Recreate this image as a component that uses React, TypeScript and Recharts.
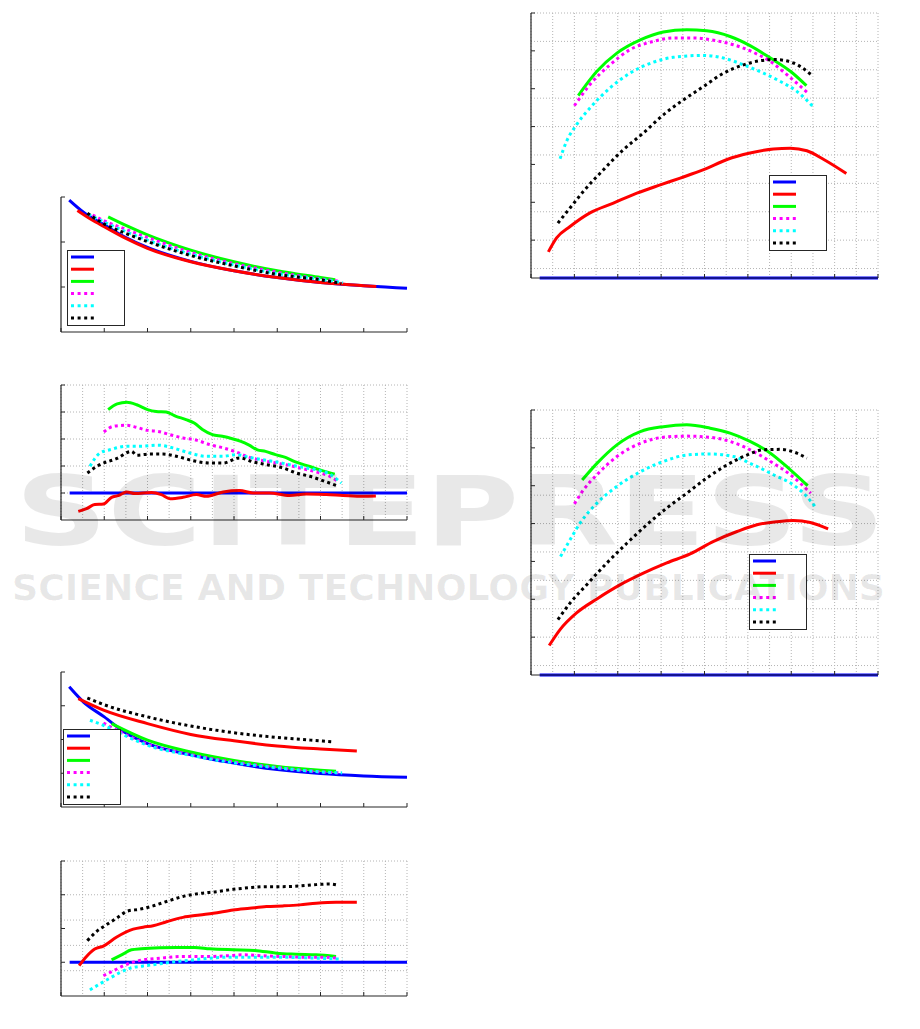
import React from 'react';
import { LineChart, Line, XAxis, YAxis, CartesianGrid } from 'recharts';

type Pt = [number, number];

// shared x axis: 0..8, one tick per unit
const xTicks = [0, 1, 2, 3, 4, 5, 6, 7, 8];

// ---- panel 1: decay curves ----
const p1Blue: Pt[] = [[0.19, 2.93], [0.52, 2.66], [1, 2.38], [1.5, 2.1], [2, 1.88], [3, 1.57], [4, 1.36], [5, 1.21], [6, 1.1], [7, 1.03], [7.5, 1.0], [8, 0.97]];
const p1Red: Pt[] = [[0.38, 2.7], [0.7, 2.5], [1, 2.34], [1.5, 2.08], [2, 1.86], [3, 1.56], [4, 1.36], [5, 1.21], [6, 1.1], [7, 1.03], [7.29, 1.01]];
const p1Green: Pt[] = [[1.09, 2.56], [1.5, 2.37], [2, 2.16], [3, 1.82], [4, 1.56], [5, 1.36], [6, 1.21], [6.34, 1.16]];
const p1Magenta: Pt[] = [[0.73, 2.6], [1, 2.47], [1.5, 2.28], [2, 2.1], [3, 1.77], [4, 1.52], [5, 1.33], [6, 1.18], [6.42, 1.13]];
const p1Cyan: Pt[] = [[0.63, 2.62], [1, 2.44], [1.5, 2.23], [2, 2.04], [3, 1.73], [4, 1.49], [5, 1.3], [6, 1.17], [6.52, 1.1]];
const p1Black: Pt[] = [[0.61, 2.64], [1, 2.4], [1.5, 2.19], [2, 2.01], [3, 1.7], [4, 1.47], [5, 1.28], [6, 1.16], [6.48, 1.08]];

// ---- panel 2: differences ----
const p2Blue: Pt[] = [[0.2, 0], [8, 0]];
const p2Red: Pt[] = [[0.4, -0.68], [0.59, -0.58], [0.78, -0.43], [0.98, -0.41], [1.17, -0.16], [1.32, -0.1], [1.52, 0.04], [1.71, -0.02], [2.09, 0.02], [2.32, -0.06], [2.52, -0.21], [2.82, -0.16], [3.13, -0.06], [3.36, -0.12], [3.75, 0.04], [4.13, 0.09], [4.44, 0], [4.82, 0], [5.28, -0.09], [5.67, -0.04], [6.13, -0.06], [6.52, -0.09], [6.98, -0.12], [7.28, -0.11]];
const p2Green: Pt[] = [[1.09, 3.09], [1.3, 3.3], [1.52, 3.36], [1.75, 3.27], [2, 3.09], [2.2, 3.02], [2.43, 3.0], [2.66, 2.84], [2.89, 2.72], [3.08, 2.59], [3.27, 2.35], [3.5, 2.16], [3.73, 2.1], [3.96, 2.01], [4.16, 1.91], [4.35, 1.77], [4.54, 1.6], [4.73, 1.54], [4.96, 1.42], [5.19, 1.32], [5.42, 1.15], [5.73, 0.99], [6.04, 0.83], [6.33, 0.7]];
const p2Magenta: Pt[] = [[0.99, 2.26], [1.21, 2.47], [1.52, 2.51], [1.75, 2.43], [2, 2.32], [2.25, 2.28], [2.52, 2.16], [2.82, 2.04], [3.13, 1.96], [3.44, 1.79], [3.75, 1.67], [4.05, 1.52], [4.36, 1.32], [4.67, 1.2], [4.98, 1.11], [5.28, 1.02], [5.59, 0.9], [5.9, 0.78], [6.21, 0.62], [6.38, 0.46]];
const p2Cyan: Pt[] = [[0.67, 0.99], [0.9, 1.48], [1.13, 1.6], [1.52, 1.73], [1.82, 1.73], [2.25, 1.77], [2.59, 1.67], [2.98, 1.48], [3.36, 1.36], [3.75, 1.36], [4.05, 1.42], [4.36, 1.32], [4.67, 1.23], [4.98, 1.15], [5.28, 1.05], [5.59, 0.95], [5.9, 0.86], [6.21, 0.7], [6.48, 0.37]];
const p2Black: Pt[] = [[0.61, 0.74], [0.9, 1.05], [1.28, 1.27], [1.63, 1.54], [1.75, 1.4], [2.05, 1.44], [2.36, 1.44], [2.67, 1.36], [3.05, 1.2], [3.44, 1.11], [3.75, 1.11], [4.13, 1.3], [4.44, 1.15], [4.75, 1.05], [5.13, 0.93], [5.44, 0.74], [5.75, 0.62], [6.05, 0.46], [6.36, 0.28]];

// ---- panel 3: decay curves, second case ----
const p3Blue: Pt[] = [[0.19, 3.56], [0.52, 3.11], [1, 2.67], [1.5, 2.19], [2, 1.88], [3, 1.55], [4, 1.3], [5, 1.11], [6, 0.99], [7, 0.92], [8, 0.88]];
const p3Red: Pt[] = [[0.4, 3.21], [1, 2.86], [2, 2.47], [3, 2.15], [4, 1.96], [5, 1.81], [6, 1.72], [6.84, 1.66]];
const p3Green: Pt[] = [[1.17, 2.47], [2, 1.98], [3, 1.63], [4, 1.38], [5, 1.2], [6, 1.09], [6.36, 1.06]];
const p3Magenta: Pt[] = [[0.98, 2.49], [1.5, 2.14], [2, 1.86], [3, 1.55], [4, 1.33], [5, 1.17], [6, 1.04], [6.48, 1.01]];
const p3Cyan: Pt[] = [[0.67, 2.57], [0.98, 2.42], [1.52, 2.09], [2, 1.83], [3, 1.53], [4, 1.31], [5, 1.16], [6, 1.04], [6.5, 1.01]];
const p3Black: Pt[] = [[0.61, 3.23], [1, 3.03], [2, 2.67], [3, 2.4], [4, 2.2], [5, 2.06], [6, 1.96], [6.32, 1.93]];

// ---- panel 4: differences, second case ----
const p4Blue: Pt[] = [[0.2, 0], [8, 0]];
const p4Red: Pt[] = [[0.42, -0.1], [0.59, 0.17], [0.78, 0.39], [0.98, 0.48], [1.28, 0.74], [1.67, 0.98], [1.9, 1.04], [2.13, 1.08], [2.44, 1.2], [2.82, 1.33], [3.21, 1.4], [3.52, 1.45], [3.98, 1.55], [4.36, 1.6], [4.75, 1.65], [5.13, 1.67], [5.52, 1.7], [5.9, 1.75], [6.36, 1.78], [6.84, 1.78]];
const p4Green: Pt[] = [[1.17, 0.07], [1.4, 0.22], [1.63, 0.37], [1.86, 0.4], [2.28, 0.43], [2.67, 0.44], [3.09, 0.44], [3.44, 0.4], [3.98, 0.37], [4.48, 0.35], [4.98, 0.27], [5.44, 0.24], [5.9, 0.22], [6.36, 0.17]];
const p4Magenta: Pt[] = [[0.98, -0.4], [1.17, -0.28], [1.4, -0.13], [1.63, -0.01], [1.9, 0.07], [2.28, 0.12], [2.82, 0.17], [3.36, 0.17], [3.82, 0.19], [4.21, 0.22], [4.67, 0.19], [5.13, 0.17], [5.59, 0.15], [6.05, 0.15], [6.38, 0.12]];
const p4Cyan: Pt[] = [[0.67, -0.82], [0.9, -0.64], [1.13, -0.47], [1.36, -0.31], [1.59, -0.18], [1.9, -0.11], [2.21, -0.06], [2.67, 0.02], [3.05, 0.07], [3.44, 0.12], [3.9, 0.15], [4.36, 0.15], [4.98, 0.15], [5.44, 0.14], [5.9, 0.12], [6.5, 0.09]];
const p4Black: Pt[] = [[0.61, 0.64], [0.82, 0.91], [1.05, 1.11], [1.28, 1.3], [1.55, 1.52], [1.82, 1.57], [2.13, 1.67], [2.44, 1.8], [2.82, 1.95], [3.21, 2.04], [3.59, 2.09], [3.98, 2.16], [4.36, 2.21], [4.75, 2.24], [5.13, 2.24], [5.52, 2.26], [5.9, 2.3], [6.21, 2.32], [6.38, 2.29]];

// ---- panel 5: arcs ----
const p5Blue: Pt[] = [[0.2, 0], [8, 0]];
const p5Red: Pt[] = [[0.4, 0.69], [0.59, 1.06], [0.9, 1.36], [1.36, 1.72], [1.9, 1.98], [2.44, 2.24], [2.98, 2.46], [3.44, 2.64], [3.98, 2.86], [4.52, 3.13], [5.05, 3.3], [5.59, 3.41], [5.98, 3.43], [6.36, 3.36], [6.75, 3.13], [7.27, 2.76]];
const p5Green: Pt[] = [[1.09, 4.82], [1.52, 5.46], [1.98, 5.94], [2.52, 6.29], [3.05, 6.5], [3.59, 6.56], [4.05, 6.53], [4.59, 6.38], [5.05, 6.14], [5.52, 5.81], [5.98, 5.46], [6.35, 5.08]];
const p5Magenta: Pt[] = [[1.0, 4.55], [1.36, 5.11], [1.82, 5.63], [2.28, 6.03], [2.82, 6.25], [3.28, 6.34], [3.75, 6.34], [4.21, 6.28], [4.67, 6.16], [5.13, 5.96], [5.52, 5.72], [5.9, 5.37], [6.36, 4.91]];
const p5Cyan: Pt[] = [[0.67, 3.15], [0.82, 3.61], [1.05, 4.05], [1.36, 4.49], [1.82, 5.02], [2.28, 5.41], [2.82, 5.7], [3.28, 5.83], [3.98, 5.88], [4.44, 5.81], [4.9, 5.63], [5.36, 5.41], [5.75, 5.19], [6.13, 4.93], [6.5, 4.53]];
const p5Black: Pt[] = [[0.62, 1.45], [0.9, 1.85], [1.21, 2.29], [1.67, 2.86], [2.13, 3.39], [2.59, 3.83], [3.05, 4.31], [3.52, 4.71], [3.98, 5.06], [4.44, 5.41], [4.9, 5.63], [5.28, 5.74], [5.63, 5.77], [6.05, 5.68], [6.48, 5.35]];

// ---- panel 6: arcs, second case ----
const p6Blue: Pt[] = [[0.2, 0], [8, 0]];
const p6Red: Pt[] = [[0.42, 0.78], [0.67, 1.2], [1.05, 1.64], [1.52, 2.01], [2.05, 2.38], [2.59, 2.69], [3.13, 2.96], [3.67, 3.2], [4.21, 3.53], [4.75, 3.79], [5.21, 3.97], [5.67, 4.05], [6.05, 4.08], [6.44, 4.03], [6.85, 3.86]];
const p6Green: Pt[] = [[1.18, 5.15], [1.52, 5.59], [1.98, 6.08], [2.52, 6.43], [3.05, 6.56], [3.59, 6.61], [4.13, 6.52], [4.59, 6.39], [5.05, 6.17], [5.52, 5.86], [5.98, 5.42], [6.38, 5.0]];
const p6Magenta: Pt[] = [[1.0, 4.52], [1.21, 4.89], [1.52, 5.29], [1.98, 5.77], [2.52, 6.12], [3.05, 6.28], [3.59, 6.31], [4.13, 6.28], [4.59, 6.17], [5.05, 5.95], [5.52, 5.64], [5.98, 5.29], [6.45, 4.8]];
const p6Cyan: Pt[] = [[0.68, 3.13], [0.9, 3.57], [1.13, 4.01], [1.52, 4.54], [1.98, 4.98], [2.52, 5.37], [3.05, 5.64], [3.59, 5.81], [4.13, 5.84], [4.67, 5.77], [5.13, 5.55], [5.59, 5.29], [6.05, 5.02], [6.32, 4.76], [6.55, 4.45]];
const p6Black: Pt[] = [[0.62, 1.46], [0.9, 1.9], [1.28, 2.38], [1.75, 2.96], [2.21, 3.48], [2.67, 3.97], [3.13, 4.41], [3.59, 4.8], [4.05, 5.2], [4.52, 5.55], [4.98, 5.81], [5.36, 5.95], [5.75, 5.96], [6.13, 5.86], [6.36, 5.73]];

const COLORS = ['#0000ff', '#ff0000', '#00ff00', '#ff00ff', '#00ffff', '#000000'];
const DOTTED = [false, false, false, true, true, true];
const AXIS = '#262626';

function steps(lo: number, hi: number, step: number) {
  const out: number[] = [];
  for (let v = lo; v <= hi + 1e-9; v += step) out.push(+v.toFixed(4));
  return out;
}

interface PanelProps {
  left: number;
  top: number;
  width: number;
  height: number;
  yDomain: [number, number];
  yTicks: number[];
  series: Pt[][];
  grid?: { x: number; y: number };
  legend?: { left: number; top: number };
}

function LegendBox({ left, top }: { left: number; top: number }) {
  return (
    <svg width={58} height={76} style={{ position: 'absolute', left, top }}>
      <rect x={0.5} y={0.5} width={57} height={75} fill="#fff" stroke={AXIS} strokeWidth={1} />
      {COLORS.map((c, i) => (
        <line
          key={c}
          x1={4}
          x2={27}
          y1={7 + i * 12.2}
          y2={7 + i * 12.2}
          stroke={c}
          strokeWidth={3}
          strokeDasharray={DOTTED[i] ? '3 3.6' : undefined}
        />
      ))}
    </svg>
  );
}

// inward-pointing tick marks, no labels
const TICK_LEN = 4;

function Panel({ left, top, width, height, yDomain, yTicks, series, grid, legend }: PanelProps) {
  const pad = 6; // space around the plot area
  const axisSize = 8;
  return (
    <>
      <div style={{ position: 'absolute', left: left - axisSize, top: top - pad }}>
        <LineChart
          width={width + axisSize + pad}
          height={height + axisSize + pad}
          margin={{ top: pad, right: pad, bottom: 0, left: 0 }}
        >
          {grid && (
            <CartesianGrid
              stroke="#b4b4b4"
              strokeDasharray="1 2"
              verticalValues={steps(0, 8, grid.x)}
              horizontalValues={steps(yDomain[0], yDomain[1], grid.y)}
            />
          )}
          <XAxis
            type="number"
            dataKey="x"
            domain={[0, 8]}
            ticks={xTicks}
            tick={() => <g />}
            height={axisSize}
            tickSize={-TICK_LEN}
            axisLine={{ stroke: AXIS, strokeWidth: 1.2 }}
            tickLine={{ stroke: AXIS }}
          />
          <YAxis
            type="number"
            domain={yDomain}
            ticks={yTicks}
            tick={() => <g />}
            width={axisSize}
            tickSize={-TICK_LEN}
            axisLine={{ stroke: AXIS, strokeWidth: 1.2 }}
            tickLine={{ stroke: AXIS }}
          />
          {series.map((pts, i) => (
            <Line
              key={i}
              data={pts.map(([x, y]) => ({ x, y }))}
              dataKey="y"
              type="monotone"
              stroke={COLORS[i]}
              strokeWidth={3}
              strokeDasharray={DOTTED[i] ? '3 3.3' : undefined}
              dot={false}
              activeDot={false}
              isAnimationActive={false}
            />
          ))}
        </LineChart>
      </div>
      {legend && <LegendBox left={legend.left} top={legend.top} />}
    </>
  );
}

function Watermark() {
  return (
    <svg
      width={920}
      height={1029}
      style={{ position: 'absolute', left: 0, top: 0, pointerEvents: 'none' }}
    >
      <g fill="#000" fillOpacity={0.09} fontFamily="DejaVu Sans, sans-serif" fontWeight="bold">
        <text x={15} y={545} fontSize={96} textLength={870} lengthAdjust="spacingAndGlyphs">
          SCITEPRESS
        </text>
        <text x={12} y={600} fontSize={36} textLength={873} lengthAdjust="spacingAndGlyphs">
          SCIENCE AND TECHNOLOGY PUBLICATIONS
        </text>
      </g>
    </svg>
  );
}

export default function App() {
  return (
    <div style={{ position: 'absolute', left: 0, top: 0, width: 920, height: 1029, background: '#fff' }}>
      <Panel
        left={61} top={197} width={346} height={135}
        yDomain={[0, 3]} yTicks={[0, 1, 2, 3]}
        series={[p1Blue, p1Red, p1Green, p1Magenta, p1Cyan, p1Black]}
        legend={{ left: 67, top: 250 }}
      />
      <Panel
        left={61} top={385} width={346} height={135}
        yDomain={[-1, 4]} yTicks={[-1, 0, 1, 2, 3, 4]}
        series={[p2Blue, p2Red, p2Green, p2Magenta, p2Cyan, p2Black]}
        grid={{ x: 0.25, y: 0.5 }}
      />
      <Panel
        left={61} top={672} width={346} height={135}
        yDomain={[0, 4]} yTicks={[0, 1, 2, 3, 4]}
        series={[p3Blue, p3Red, p3Green, p3Magenta, p3Cyan, p3Black]}
        legend={{ left: 63, top: 729 }}
      />
      <Panel
        left={61} top={861} width={346} height={135}
        yDomain={[-1, 3]} yTicks={[-1, 0, 1, 2, 3]}
        series={[p4Blue, p4Red, p4Green, p4Magenta, p4Cyan, p4Black]}
        grid={{ x: 0.25, y: 0.25 }}
      />
      <Panel
        left={531} top={13} width={347} height={265}
        yDomain={[0, 7]} yTicks={[0, 1, 2, 3, 4, 5, 6, 7]}
        series={[p5Blue, p5Red, p5Green, p5Magenta, p5Cyan, p5Black]}
        grid={{ x: 0.25, y: 0.25 }}
        legend={{ left: 769, top: 175 }}
      />
      <Panel
        left={531} top={410} width={347} height={265}
        yDomain={[0, 7]} yTicks={[0, 1, 2, 3, 4, 5, 6, 7]}
        series={[p6Blue, p6Red, p6Green, p6Magenta, p6Cyan, p6Black]}
        grid={{ x: 0.25, y: 0.25 }}
        legend={{ left: 749, top: 554 }}
      />
      <Watermark />
    </div>
  );
}
